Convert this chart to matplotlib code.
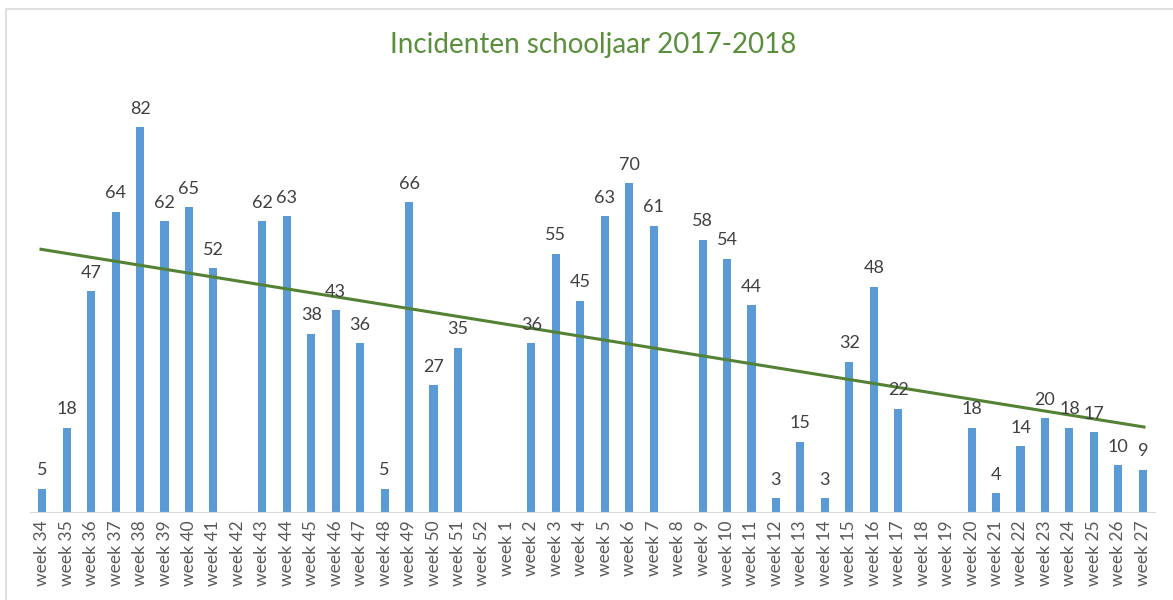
import numpy as np
import matplotlib.pyplot as plt
from matplotlib.patches import Rectangle

weeks = list(range(34, 53)) + list(range(1, 28))
labels = ['week %d' % w for w in weeks]
counts = [5, 18, 47, 64, 82, 62, 65, 52, None, 62, 63, 38, 43, 36, 5, 66, 27, 35, None,
          None, 36, 55, 45, 63, 70, 61, None, 58, 54, 44, 3, 15, 3, 32, 48, 22, None,
          None, 18, 4, 14, 20, 18, 17, 10, 9]

plt.rcParams['font.family'] = ['Lato', 'DejaVu Sans']

vals = np.array([np.nan if c is None else c for c in counts], dtype=float)
x = np.arange(len(weeks))

fig = plt.figure(figsize=(11.73, 6), dpi=100)
ax = fig.add_axes([30 / 1173, 88 / 600, 1125 / 1173, 422.5 / 600])

ax.bar(x, np.nan_to_num(vals), width=0.33, color='#5B9BD5', zorder=2)

# Excel-style linear trendline, blanks ignored
ok = ~np.isnan(vals)
k, b = np.polyfit(x[ok], vals[ok], 1)
ax.plot([x[0] - 0.05, x[-1] + 0.05], [k * (x[0] - 0.05) + b, k * (x[-1] + 0.05) + b],
        color='#548235', lw=2.2, zorder=3)

for xi, v in zip(x, vals):
    if not np.isnan(v):
        ax.text(xi, v + 2.2, '%d' % v, ha='center', va='bottom', fontsize=13, color='#404040')

ax.set_xlim(-0.5, len(weeks) - 0.5)
ax.set_ylim(0, 90)
ax.set_xticks(x)
ax.set_xticklabels(labels, rotation=90, fontsize=12.5, color='#595959')
ax.tick_params(axis='x', length=0, pad=6)
ax.set_yticks([])
for s in ['top', 'right', 'left']:
    ax.spines[s].set_visible(False)
ax.spines['bottom'].set_color('#d9d9d9')

fig.text(593 / 1173, 1 - 45 / 600, 'Incidenten schooljaar 2017-2018', ha='center', va='center',
         fontsize=20, color='#5a8f3c')

fig.patches.append(Rectangle((6 / 1173, -0.1), 1.2, 1 - 9 / 600 + 0.1, transform=fig.transFigure,
                             fill=False, edgecolor='#d9d9d9', lw=1.2))

fig.savefig('out.png', dpi=100)
